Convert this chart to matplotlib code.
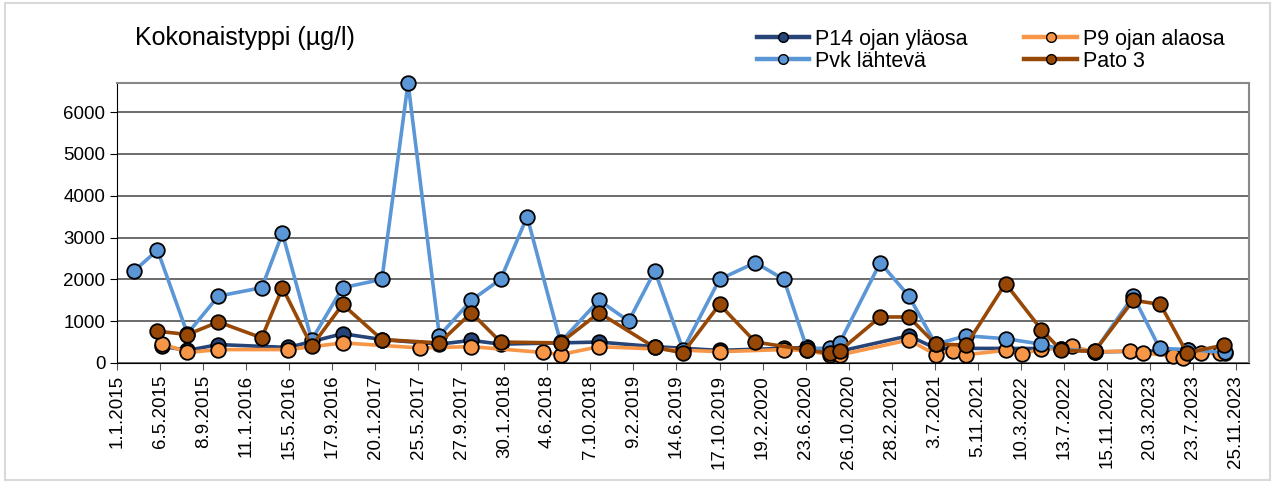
import datetime

import matplotlib
import numpy as np
from matplotlib import pyplot as plt

matplotlib.use('Agg')
plt.rcParams['font.family'] = ['Liberation Sans', 'DejaVu Sans']

# data (date strings d.m.yyyy, values in µg/l)
p14_dates = ['12.5.2015', '24.7.2015', '22.10.2015', '12.5.2016', '17.10.2016', '8.2.2017', '25.7.2017',
             '26.10.2017', '19.1.2018', '1.11.2018', '12.4.2019', '17.10.2019', '21.4.2020', '27.6.2020',
             '3.9.2020', '30.9.2020', '19.4.2021', '6.7.2021', '6.7.2022', '11.10.2022', '8.7.2023',
             '25.10.2023']
p14_values = [400, 300, 440, 370, 700, 560, 450, 540, 450, 500, 390, 300, 350, 370, 250, 280, 650, 350, 345,
              264, 300, 230]

p9_dates = ['12.5.2015', '24.7.2015', '22.10.2015', '12.5.2016', '17.10.2016', '29.5.2017', '26.10.2017',
            '23.5.2018', '12.7.2018', '1.11.2018', '17.10.2019', '21.4.2020', '27.6.2020', '3.9.2020',
            '30.9.2020', '19.4.2021', '6.7.2021', '25.8.2021', '3.10.2021', '25.1.2022', '14.3.2022',
            '9.5.2022', '7.8.2022', '11.10.2022', '21.1.2023', '1.3.2023', '28.5.2023', '24.6.2023',
            '15.8.2023', '9.10.2023']
p9_values = [465, 250, 320, 320, 480, 360, 390, 250, 200, 390, 270, 320, 300, 190, 190, 550, 200, 290, 200,
             300, 220, 330, 400, 260, 290, 240, 160, 130, 240, 230]

pvk_dates = ['19.2.2015', '28.4.2015', '24.7.2015', '22.10.2015', '25.2.2016', '25.4.2016', '19.7.2016',
             '17.10.2016', '8.2.2017', '25.4.2017', '25.7.2017', '26.10.2017', '19.1.2018', '6.4.2018',
             '12.7.2018', '1.11.2018', '26.1.2019', '12.4.2019', '3.7.2019', '17.10.2019', '29.1.2020',
             '21.4.2020', '27.6.2020', '3.9.2020', '30.9.2020', '26.1.2021', '19.4.2021', '6.7.2021',
             '3.10.2021', '25.1.2022', '9.5.2022', '6.7.2022', '11.10.2022', '31.1.2023', '18.4.2023',
             '8.7.2023', '25.10.2023']
pvk_values = [2200, 2700, 700, 1600, 1800, 3100, 550, 1800, 2000, 6700, 650, 1500, 2000, 3500, 500, 1500, 1000,
              2200, 320, 2000, 2400, 2000, 350, 350, 480, 2400, 1600, 450, 650, 580, 450, 330, 280, 1600, 350,
              320, 250]

pato3_dates = ['28.4.2015', '24.7.2015', '22.10.2015', '25.2.2016', '25.4.2016', '19.7.2016', '17.10.2016',
               '8.2.2017', '25.7.2017', '26.10.2017', '19.1.2018', '12.7.2018', '1.11.2018', '12.4.2019',
               '3.7.2019', '17.10.2019', '29.1.2020', '27.6.2020', '3.9.2020', '30.9.2020', '26.1.2021',
               '19.4.2021', '6.7.2021', '3.10.2021', '25.1.2022', '9.5.2022', '6.7.2022', '11.10.2022',
               '31.1.2023', '20.4.2023', '6.7.2023', '22.10.2023']
pato3_values = [760, 680, 980, 600, 1800, 400, 1400, 560, 480, 1200, 500, 480, 1200, 370, 240, 1400, 500, 310,
                230, 290, 1100, 1100, 450, 430, 1900, 800, 300, 280, 1500, 1400, 240, 430]

series_names = ['P14 ojan yläosa', 'P9 ojan alaosa', 'Pvk lähtevä', 'Pato 3']
series_colors = ['#264478', '#F79646', '#5B96D6', '#974806']


def to_dates(items):
    return [datetime.datetime.strptime(s, '%d.%m.%Y') for s in items]


fig = plt.figure(figsize=(12.74, 4.82), dpi=100)
ax = fig.add_axes([0.092, 0.247, 0.888, 0.581])

lines = {}
all_data = [(p14_dates, p14_values), (p9_dates, p9_values), (pvk_dates, pvk_values), (pato3_dates, pato3_values)]
for (dates, values), name, color in zip(all_data, series_names, series_colors):
    line, = ax.plot(to_dates(dates), values, color=color, lw=2.6, marker='o', markersize=10.5,
                    markerfacecolor=color, markeredgecolor='black', markeredgewidth=1.3, label=name,
                    solid_joinstyle='round', clip_on=False, zorder=3)
    lines[name] = line

start = datetime.datetime(2015, 1, 1)
tick_dates = [start + datetime.timedelta(days=125 * i) for i in range(27)]
ax.set_xlim(start, datetime.datetime(2024, 1, 1))
ax.set_xticks(tick_dates)
ax.set_xticklabels([f'{d.day}.{d.month}.{d.year}' for d in tick_dates], rotation=90, fontsize=13.5)
ax.set_ylim(0, 6700)
ax.set_yticks(np.arange(0, 7000, 1000))
ax.tick_params(axis='y', labelsize=13.5, length=5, direction='out')
ax.tick_params(axis='x', length=5, direction='out', color='#555555')
ax.grid(axis='y', color='#444444', lw=1.1)
ax.set_axisbelow(True)
for side in ['top', 'right']:
    ax.spines[side].set_color('#888888')
    ax.spines[side].set_linewidth(1.5)
ax.spines['left'].set_color('black')
ax.spines['bottom'].set_color('black')

fig.text(0.106, 0.921, 'Kokonaistyppi (µg/l)', fontsize=18, va='center')

order = ['P14 ojan yläosa', 'Pvk lähtevä', 'P9 ojan alaosa', 'Pato 3']
handles = []
for name in order:
    h, = ax.plot([], [], color=lines[name].get_color(), lw=3.2, marker='o', markersize=7,
                 markeredgecolor='black', markeredgewidth=1)
    handles.append(h)
fig.legend(handles, order, ncol=2, loc='upper left', bbox_to_anchor=(0.594, 0.94), frameon=False,
           fontsize=15.5, handlelength=2.45, handletextpad=0.25, columnspacing=2.65, labelspacing=0.05,
           borderpad=0, borderaxespad=0)

fig.patches.append(plt.Rectangle((0.004, 0.004), 0.993, 0.99, transform=fig.transFigure, fill=False,
                                 edgecolor='#d9d9d9', lw=1.5))

plt.savefig('out.png', dpi=100)
plt.close()
